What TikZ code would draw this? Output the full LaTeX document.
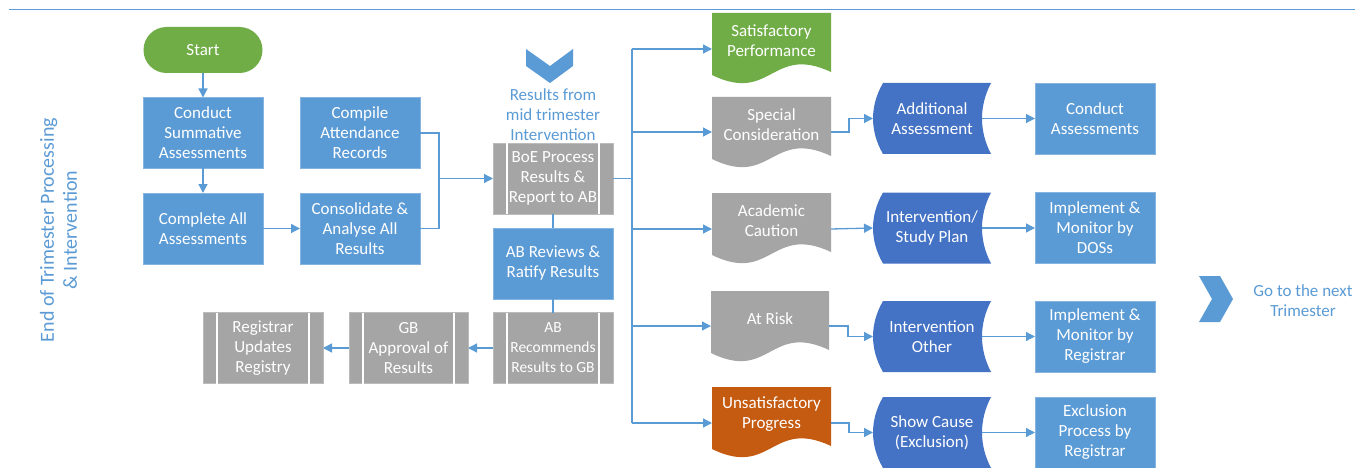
\documentclass[tikz,border=0pt]{standalone}
\usepackage{fontspec}
\setmainfont{Carlito}
\usetikzlibrary{arrows.meta,calc,backgrounds}

\definecolor{lineblue}{HTML}{5B9BD5}
\definecolor{boxblue}{HTML}{5B9BD5}
\definecolor{darkblue}{HTML}{4472C4}
\definecolor{boxgray}{HTML}{A5A5A5}
\definecolor{boxgreen}{HTML}{70AD47}
\definecolor{boxorange}{HTML}{C55A11}

% document shape: flat top, wavy bottom (drawn behind the text node)
\newcommand{\docbody}[2]{%
  \begin{scope}[on background layer]
    \fill[#2] (#1.north west) -- (#1.north east) -- ($(#1.south east)+(0,4)$)
      .. controls ($(#1.south)+(0,-24)$) and ($(#1.south)+(0,36)$) .. ($(#1.south west)+(0,7)$) -- cycle;
  \end{scope}}
% stored data shape: convex left side, concave right side
\newcommand{\storedbody}[2]{%
  \begin{scope}[on background layer]
    \fill[#2] ($(#1.north west)+(10,0)$) -- (#1.north east)
      .. controls ($(#1.north east)+(-12,23)$) and ($(#1.south east)+(-12,-23)$) .. (#1.south east)
      -- ($(#1.south west)+(10,0)$)
      .. controls ($(#1.south west)+(-3.3,-23)$) and ($(#1.north west)+(-3.3,23)$) .. ($(#1.north west)+(10,0)$) -- cycle;
  \end{scope}}
% predefined process: white bars near both sides
\newcommand{\procbars}[1]{%
  \draw[white,line width=1.2pt] ($(#1.north west)+(14,0)$) -- ($(#1.south west)+(14,0)$);
  \draw[white,line width=1.2pt] ($(#1.north east)+(-14,0)$) -- ($(#1.south east)+(-14,0)$);}

\begin{document}
\begin{tikzpicture}[x=1pt,y=-1pt,
  font=\fontsize{17}{20}\selectfont,
  every node/.style={inner sep=0pt,outer sep=0pt},
  link/.style={draw=lineblue,line width=1.3pt},
  arr/.style={link,-{Triangle[length=9pt,width=9pt]}},
  proc/.style={rectangle,fill=boxblue,draw=boxblue!75!white,line width=0.6pt,text=white,align=center,
    minimum width=120pt,minimum height=71pt},
  predef/.style={proc,fill=boxgray,draw=boxgray!75!white},
  term/.style={rectangle,rounded corners=23pt,fill=boxgreen,text=white,minimum width=119pt,minimum height=46pt},
  docnode/.style={rectangle,text=white,align=center,minimum width=119pt,minimum height=55pt},
  storenode/.style={rectangle,text=white,align=center,minimum width=118pt,minimum height=71pt},
  bluetext/.style={text=lineblue,align=center},
]
\begin{scope}[on background layer]
  \fill[white] (0,0) rectangle (1355,468);
\end{scope}
\useasboundingbox (0,0) rectangle (1355,468);

% header rule
\draw[lineblue,line width=1pt] (9,10) -- (1355,10);

% side title
\node[bluetext,rotate=90,font=\fontsize{20}{23}\selectfont] (title) at (58.5,230)
  {End of Trimester Processing\\\& Intervention};

% left column
\node[term] (start) at (203,50) {Start};
\node[proc] (conduct) at (203,133) {Conduct\\Summative\\Assessments};
\node[proc] (complete) at (203,228.5) {Complete All\\Assessments};
\node[proc] (compile) at (360,133) {Compile\\Attendance\\Records};
\node[proc] (consol) at (360,228.5) {Consolidate \&\\Analyse All\\Results};

% board processing column
\fill[lineblue] (526,49) -- (550,66) -- (573,49) -- (573,66) -- (550,83) -- (526,66) -- cycle;
\node[bluetext] (midres) at (553,115) {Results from\\mid trimester\\Intervention};
\node[predef] (boe) at (553,178.5) {BoE Process\\Results \&\\Report to AB};
\procbars{boe}
\node[proc] (abrev) at (553,263.5) {AB Reviews \&\\Ratify Results};
\node[predef,font=\fontsize{15.5}{20}\selectfont] (abrec) at (553,348) {AB\\Recommends\\Results to GB};
\procbars{abrec}
\node[predef,minimum width=119pt] (gbapp) at (408.5,348) {GB\\Approval of\\Results};
\procbars{gbapp}
\node[predef] (regup) at (263,348) {Registrar\\Updates\\Registry};
\procbars{regup}

% outcomes
\node[docnode] (sat) at (771.5,40.5) {Satisfactory\\Performance};
\docbody{sat}{boxgreen}
\node[docnode] (spec) at (771.5,124.5) {Special\\Consideration};
\docbody{spec}{boxgray}
\node[docnode] (acad) at (771.5,220.5) {Academic\\Caution};
\docbody{acad}{boxgray}
\node[docnode,minimum width=118pt] (risk) at (770,318.5) {At Risk};
\docbody{risk}{boxgray}
\node[docnode] (unsat) at (771.5,414.5) {Unsatisfactory\\Progress};
\docbody{unsat}{boxorange}

% follow-up actions
\node[storenode] (addl) at (932,118.5) {Additional\\Assessment};
\storedbody{addl}{darkblue}
\node[storenode] (intv) at (932,228) {Intervention/\\Study Plan};
\storedbody{intv}{darkblue}
\node[storenode] (other) at (932,336.5) {Intervention\\Other};
\storedbody{other}{darkblue}
\node[storenode] (show) at (932,432.5) {Show Cause\\(Exclusion)};
\storedbody{show}{darkblue}

\node[proc] (cass) at (1095,118.5) {Conduct\\Assessments};
\node[proc] (impd) at (1095,227.5) {Implement \&\\Monitor by\\DOSs};
\node[proc] (impr) at (1095,336.5) {Implement \&\\Monitor by\\Registrar};
\node[proc] (excl) at (1095,432.5) {Exclusion\\Process by\\Registrar};

% next trimester
\fill[lineblue] (1199,276) -- (1220,276) -- (1233,299) -- (1220,322) -- (1199,322) -- (1212,299) -- cycle;
\node[bluetext] (nexttri) at (1303,300.5) {Go to the next\\Trimester};

% connectors: left part
\draw[arr] (start) -- (conduct);
\draw[arr] (conduct) -- (complete);
\draw[arr] (complete) -- (consol);
\coordinate (join) at (439,178.5);
\draw[link] (compile.east) -| (join);
\draw[link] (consol.east) -| (join);
\draw[arr] (join) -- (boe.west);
\draw[link] (boe) -- (abrev);
\draw[link] (abrev) -- (abrec);
\draw[arr] (abrec) -- (gbapp);
\draw[arr] (gbapp) -- (regup);

% connectors: outcome trunk
\coordinate (tj) at (632,178.5);
\coordinate (b1) at (632,49);
\coordinate (b2) at (632,132);
\coordinate (b3) at (632,229);
\coordinate (b4) at (632,326);
\coordinate (b5) at (632,423);
\draw[link] (boe.east) -- (tj);
\draw[link] (b1) -- (b5);
\draw[arr] (b1) -- (b1 -| sat.west);
\draw[arr] (b2) -- (b2 -| spec.west);
\draw[arr] (b3) -- (b3 -| acad.west);
\draw[arr] (b4) -- (b4 -| risk.west);
\draw[arr] (b5) -- (b5 -| unsat.west);

% connectors: outcome to action
\draw[arr] (b2 -| spec.east) -- ++(18,0) |- (addl.west);
\draw[arr] (b3 -| acad.east) -- (intv.west);
\draw[arr] (b4 -| risk.east) -- ++(19,0) |- (other.west);
\draw[arr] (b5 -| unsat.east) -- ++(18,0) |- (show.west);
\draw[arr] ($(addl.east)+(-9,0)$) -- (cass.west);
\draw[arr] ($(intv.east)+(-9,0)$) -- (impd.west |- intv.east);
\draw[arr] ($(other.east)+(-9,0)$) -- (impr.west);
\draw[arr] ($(show.east)+(-9,0)$) -- (excl.west);
\end{tikzpicture}
\end{document}
